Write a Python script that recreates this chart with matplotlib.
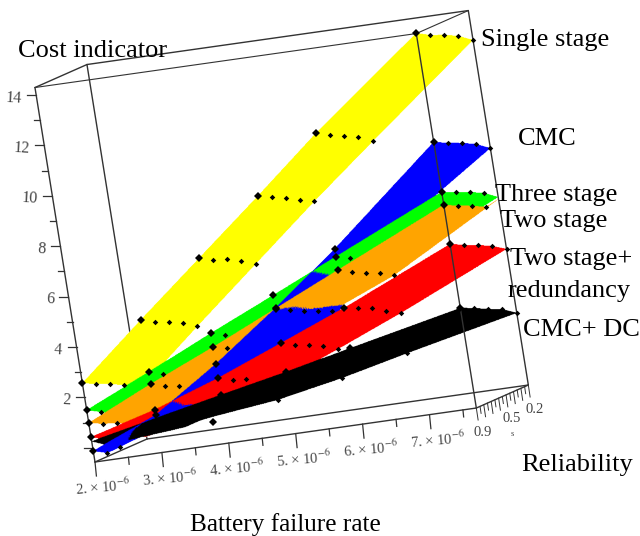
import numpy as np
import matplotlib
matplotlib.use("Agg")
import matplotlib.pyplot as plt
from matplotlib.colors import to_rgb

plt.rcParams["font.family"] = ["Liberation Serif", "DejaVu Serif"]
plt.rcParams["mathtext.fontset"] = "stix"

# failure rate (x 1e-6) and reliability of the grid
rates = [2, 3, 4, 5, 6, 7.7]
reliab = [0.9, 0.725, 0.55, 0.375, 0.2]

# cost indicator, one line per failure rate
single_stage = [[2.57, 2.31, 2.08, 1.81, 1.39],
                [4.70, 4.41, 4.18, 3.90, 3.54],
                [6.78, 6.49, 6.30, 5.99, 5.64],
                [8.86, 8.60, 8.34, 8.04, 7.74],
                [10.99, 10.68, 10.42, 10.15, 9.76],
                [14.32, 14.01, 13.79, 13.52, 13.13]]
cmc = [[-0.12, -0.43, -0.41, -0.37, -0.36],
       [0.93, 0.72, 0.50, 0.30, 0.02],
       [2.58, 2.14, 1.84, 1.54, 1.14],
       [4.42, 4.04, 3.74, 3.44, 3.04],
       [6.39, 6.19, 6.09, 6.04, 5.99],
       [10.0, 9.73, 9.50, 9.23, 8.84]]
three_stage = [[1.50, 1.20, 0.94, 0.69, 0.29],
               [2.64, 2.33, 2.09, 1.84, 1.44],
               [3.81, 3.49, 3.24, 2.99, 2.59],
               [4.94, 4.64, 4.39, 4.14, 3.74],
               [6.08, 5.80, 5.54, 5.29, 4.89],
               [8.01, 7.78, 7.55, 7.29, 6.90]]
two_stage = [[0.99, 0.73, 0.53, 0.29, -0.06],
             [2.16, 1.85, 1.63, 1.39, 0.99],
             [3.25, 2.99, 2.74, 2.49, 2.09],
             [4.40, 4.13, 3.83, 3.61, 3.39],
             [5.55, 5.25, 4.98, 4.75, 4.44],
             [7.50, 7.23, 7.00, 6.73, 6.82]]
two_stage_red = [[0.43, 0.12, -0.11, -0.26, -0.46],
                 [1.14, 0.84, 0.59, 0.34, -0.01],
                 [2.02, 1.72, 1.52, 1.29, 0.89],
                 [3.03, 2.72, 2.49, 2.24, 1.88],
                 [4.05, 3.81, 3.58, 3.24, 2.93],
                 [5.95, 5.68, 5.45, 5.18, 4.84]]
cmc_dc = [[0.26, -0.11, -0.14, -0.13, -0.20],
          [0.81, 0.10, 0.00, 0.01, -0.06],
          [1.35, 1.06, 0.84, 0.59, 0.24],
          [1.88, 1.59, 1.34, 1.09, 0.74],
          [2.46, 2.19, 1.94, 1.69, 1.34],
          [3.41, 3.18, 2.91, 2.68, 2.30]]

# which grid dots can be seen in the picture
seen_single = ["11110", "11111", "11111", "11111", "11111", "11111"]
seen_cmc = ["11100", "10000", "10000", "10000", "10000", "11111"]
seen_three = ["11000", "11000", "11000", "10000", "11000", "11110"]
seen_two = ["11100", "11100", "11000", "11111", "11111", "11110"]
seen_red = ["11000", "10000", "11100", "11111", "11111", "11111"]
seen_black = ["00000", "00000", "10001", "10001", "10001", "11111"]

# dots that sit off their surface: rate, reliability, cost
stray_rates = [3]
stray_reliab = [0.2]
stray_costs = [-0.26]

surfaces = [(single_stage, "#FFFF00", seen_single),
            (cmc, "#0000FF", seen_cmc),
            (three_stage, "#00FF00", seen_three),
            (two_stage, "#FFA500", seen_two),
            (two_stage_red, "#FF0000", seen_red),
            (cmc_dc, "#000000", seen_black)]

cost_ticks = [0, 2, 4, 6, 8, 10, 12, 14]
rate_ticks = [2, 3, 4, 5, 6, 7]
rel_labels = [0.9, 0.5, 0.2]
cost_lo, cost_hi = -0.56, 14.3
rate_lo, rate_hi = 2, 7.7
rel_lo, rel_hi = 0.2, 0.9


def project(r, rel, c):
    # the maple box is nearly affine on the page
    r, rel, c = np.asarray(r, float), np.asarray(rel, float), np.asarray(c, float)
    t = (rel_hi - rel) / (rel_hi - rel_lo)
    x = 95 + 66.9 * (r - 2) + 52 * t - 4.04 * (c - cost_lo)
    y = 462 - 9.47 * (r - 2) - 23 * t - 25.2 * (c - cost_lo)
    return x, y


fig = plt.figure(figsize=(6.4, 5.36), dpi=100)
ax = fig.add_axes([0, 0, 1, 1])
ax.axis("off")


def box_line(a, b, z=5, lw=1.0):
    xa, ya = project(*a)
    xb, yb = project(*b)
    ax.plot([xa, xb], [ya, yb], color="#333333", lw=lw, zorder=z, solid_capstyle="round")


# back edge sits behind the surfaces, the rest over them
box_line((rate_lo, rel_lo, cost_lo), (rate_lo, rel_lo, cost_hi), z=1)
box_line((rate_lo, rel_hi, cost_lo), (rate_lo, rel_hi, cost_hi))
box_line((rate_hi, rel_hi, cost_lo), (rate_hi, rel_hi, cost_hi))
box_line((rate_hi, rel_lo, cost_lo), (rate_hi, rel_lo, cost_hi))
box_line((rate_lo, rel_hi, cost_hi), (rate_hi, rel_hi, cost_hi), lw=0.8)
box_line((rate_lo, rel_lo, cost_hi), (rate_hi, rel_lo, cost_hi))
box_line((rate_lo, rel_hi, cost_hi), (rate_lo, rel_lo, cost_hi))
box_line((rate_hi, rel_hi, cost_hi), (rate_hi, rel_lo, cost_hi), lw=0.8)
box_line((rate_lo, rel_hi, cost_lo), (rate_hi, rel_hi, cost_lo))
box_line((rate_lo, rel_lo, cost_lo), (rate_hi, rel_lo, cost_lo))
box_line((rate_lo, rel_hi, cost_lo), (rate_lo, rel_lo, cost_lo))
box_line((rate_hi, rel_hi, cost_lo), (rate_hi, rel_lo, cost_lo))

# surfaces: shade each grid cell into a z-buffered image, highest cost wins
scale = 2
img = np.ones((536 * scale, 640 * scale, 4))
img[..., 3] = 0
ir = np.linspace(0, len(rates) - 1, 1500)
jr = np.linspace(0, len(reliab) - 1, 300)
I, J = np.meshgrid(ir, jr, indexing="ij")
i0 = np.minimum(I.astype(int), len(rates) - 2)
j0 = np.minimum(J.astype(int), len(reliab) - 2)
s, t = I - i0, J - j0
rr = np.array(rates)[i0] + s * (np.array(rates)[i0 + 1] - np.array(rates)[i0])
ll = np.array(reliab)[j0] + t * (np.array(reliab)[j0 + 1] - np.array(reliab)[j0])
all_px, all_py, all_c, all_col = [], [], [], []
for k, (grid, col, seen) in enumerate(surfaces):
    g = np.array(grid)
    cc = ((1 - s) * (1 - t) * g[i0, j0] + s * (1 - t) * g[i0 + 1, j0]
          + (1 - s) * t * g[i0, j0 + 1] + s * t * g[i0 + 1, j0 + 1])
    px, py = project(rr, ll, cc)
    all_px.append((px * scale).astype(int).ravel())
    all_py.append((py * scale).astype(int).ravel())
    all_c.append(cc.ravel())
    all_col.append(np.full(cc.size, k))
all_px, all_py = np.concatenate(all_px), np.concatenate(all_py)
all_c, all_col = np.concatenate(all_c), np.concatenate(all_col)
order = np.argsort(all_c)
rgba = np.array([to_rgb(x[1]) + (1,) for x in surfaces])
img[all_py[order], all_px[order]] = rgba[all_col[order]]
ax.imshow(img, extent=(0, 640, 536, 0), zorder=3, aspect="auto", interpolation="antialiased")
ax.set_xlim(0, 640)
ax.set_ylim(536, 0)

# grid dots
for grid, col, seen in surfaces:
    for i, r in enumerate(rates):
        for j, rel in enumerate(reliab):
            if seen[i][j] == "1":
                px, py = project(r, rel, grid[i][j])
                ax.plot(px, py, "D", color="black", ms=4.4 if j == 0 else 2.8, mew=0, zorder=6)
for r, rel, c in zip(stray_rates, stray_reliab, stray_costs):
    px, py = project(r, rel, c)
    ax.plot(px, py, "D", color="black", ms=4.0, mew=0, zorder=6)

# cost axis ticks
for c in cost_ticks:
    px, py = project(rate_lo, rel_hi, c)
    ax.plot([px - 9, px], [py, py], color="#333333", lw=0.9, zorder=5)
    if c > 0:
        ax.text(px - 14, py + 3, str(c), ha="right", va="center", fontsize=11.5, color="#444444", rotation=-3)
for c in np.arange(1, 14, 2):
    px, py = project(rate_lo, rel_hi, c)
    ax.plot([px - 6, px], [py, py], color="#333333", lw=0.9, zorder=5)

# failure rate axis ticks
for r in np.arange(2, 7.6, 0.5):
    px, py = project(r, rel_hi, cost_lo)
    ln = 14 if r == int(r) else 7
    ax.plot([px, px + 0.1 * ln], [py, py + ln], color="#333333", lw=0.9, zorder=5)
for r in rate_ticks:
    px, py = project(r, rel_hi, cost_lo)
    ax.text(px + 8, py + 25, f"{r}. × 10$^{{-6}}$", ha="center", va="center", fontsize=10.5,
            color="#444444", rotation=5)

# reliability axis ticks
for rel in np.arange(0.2, 0.91, 0.05):
    px, py = project(rate_hi, rel, cost_lo)
    ln = 12 if abs(rel * 10 - round(rel * 10)) < 1e-6 else 7
    ax.plot([px, px + 0.15 * ln], [py, py + ln], color="#333333", lw=0.7, zorder=5)
for rel in rel_labels:
    px, py = project(rate_hi, rel, cost_lo)
    ax.text(px + 6, py + 24, f"{rel}", ha="center", va="center", fontsize=10.5, color="#444444")
ax.text(512, 434, "s", ha="center", va="center", fontsize=6, color="#444444")

# hand written labels of the figure
size = 19
ax.text(18, 51, "Cost indicator", fontsize=size, va="center", zorder=8)
ax.text(481, 40, "Single stage", fontsize=size, va="center", zorder=8)
ax.text(518, 139, "CMC", fontsize=size, va="center", zorder=8)
ax.text(495, 195, "Three stage", fontsize=size, va="center", zorder=8)
ax.text(500, 221, "Two stage", fontsize=size, va="center", zorder=8)
ax.text(510, 259, "Two stage+", fontsize=size, va="center", zorder=8)
ax.text(508, 291, "redundancy", fontsize=size, va="center", zorder=8)
ax.text(523, 330, "CMC+ DC", fontsize=size, va="center", zorder=8)
ax.text(521, 465, "Reliability", fontsize=size, va="center", zorder=8)
ax.text(190, 525, "Battery failure rate", fontsize=18.2, va="center", zorder=8)

fig.savefig("out.png", dpi=100)
